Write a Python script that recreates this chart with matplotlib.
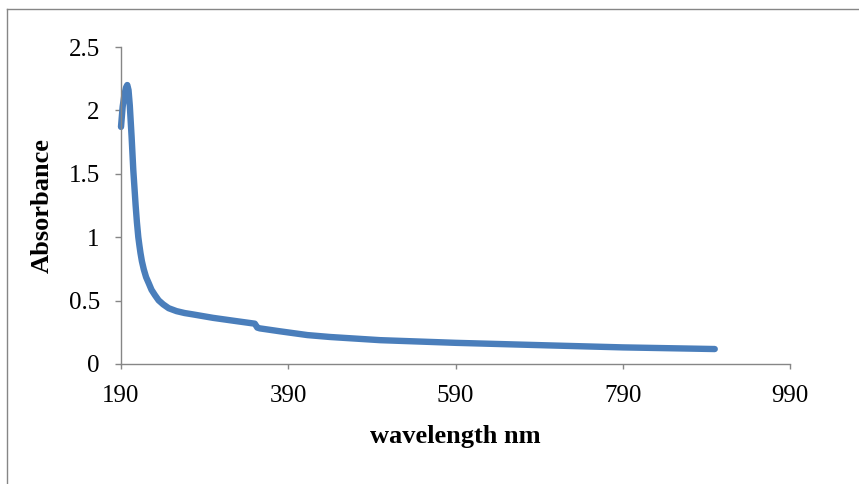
import matplotlib.pyplot as plt
from matplotlib.lines import Line2D

# UV-Vis spectrum
wavelength = [190, 192, 194, 196, 197.5, 199, 200.5, 202.7, 204.7, 207.5, 209, 210.7,
              212, 213.3, 215, 217.3, 220, 223.3, 226.5, 230.6, 235, 240.5, 247, 256.4,
              266, 276.2, 300, 328, 350, 353, 356, 380, 413, 440, 500, 590, 700, 790, 900]
absorbance = [1.87, 2.03, 2.12, 2.18, 2.20, 2.16, 2.04, 1.79, 1.53, 1.25, 1.12, 1.00,
              0.935, 0.875, 0.81, 0.745, 0.685, 0.635, 0.585, 0.543, 0.502, 0.47, 0.44,
              0.417, 0.402, 0.391, 0.364, 0.338, 0.318, 0.287, 0.281, 0.258, 0.228,
              0.213, 0.188, 0.167, 0.147, 0.131, 0.118]

x_ticks = [190, 390, 590, 790, 990]
y_ticks = [0, 0.5, 1, 1.5, 2, 2.5]
y_tick_labels = ['0', '0.5', '1', '1.5', '2', '2.5']

W, H = 859, 484
axis_grey = '#868686'

plt.rcParams['font.family'] = ['Liberation Serif', 'DejaVu Serif']

fig = plt.figure(figsize=(W / 100, H / 100), dpi=100)
ax = fig.add_axes([121 / W, 1 - 364 / H, (790 - 121) / W, (364 - 47) / H])

ax.plot(wavelength, absorbance, color='#4A7EBB', lw=4.6,
        solid_capstyle='round', solid_joinstyle='round', clip_on=False)

ax.set_xlim(190, 990)
ax.set_ylim(0, 2.5)
ax.set_xticks(x_ticks)
ax.set_xticklabels([str(t) for t in x_ticks])
ax.set_yticks(y_ticks)
ax.set_yticklabels(y_tick_labels)

for side in ['top', 'right']:
    ax.spines[side].set_visible(False)
for side in ['left', 'bottom']:
    ax.spines[side].set_color(axis_grey)
    ax.spines[side].set_linewidth(1.0)

ax.tick_params(axis='both', colors=axis_grey, labelcolor='black', labelsize=18,
               direction='out', width=1.0)
ax.tick_params(axis='y', length=4.3, pad=11)
ax.tick_params(axis='x', length=3.8, pad=11)

ax.set_xlabel('wavelength nm', fontsize=19, fontweight='bold', va='center')
ax.xaxis.set_label_coords(0.5, (364 - 437) / (364 - 47))
ax.set_ylabel('Absorbance', fontsize=19, fontweight='bold', va='center')
ax.yaxis.set_label_coords((42 - 121) / (790 - 121), 0.5)

# chart area border (left and top edges visible in the crop)
bx = 6.5 / W
by = 1 - 9.3 / H
fig.add_artist(Line2D([bx, bx], [0, by], color=axis_grey, lw=1.0))
fig.add_artist(Line2D([bx, 1], [by, by], color=axis_grey, lw=1.0))

fig.savefig('out.png', dpi=100)
